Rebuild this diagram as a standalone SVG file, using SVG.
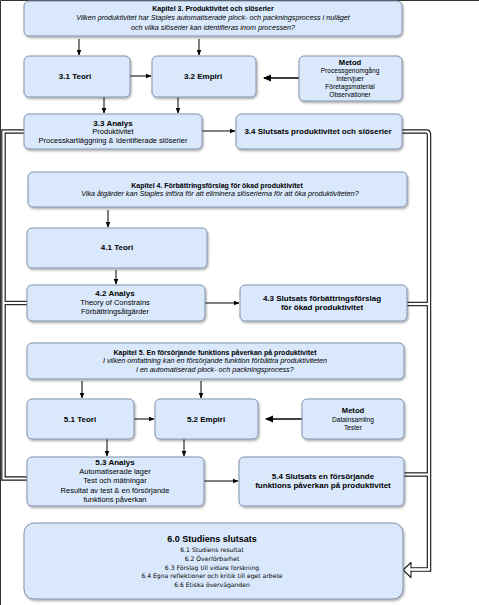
<svg xmlns="http://www.w3.org/2000/svg" width="479" height="605" viewBox="0 0 479 605">
<defs>
<filter id="sh" x="-5%" y="-5%" width="110%" height="120%">
<feDropShadow dx="1" dy="1.5" stdDeviation="0.8" flood-color="#000" flood-opacity="0.35"/>
</filter>
<marker id="ah" markerUnits="userSpaceOnUse" markerWidth="6" markerHeight="6" viewBox="0 0 6 6" refX="5.5" refY="3" orient="auto">
<path d="M0,0.5 L6,3 L0,5.5 Z" fill="#000"/>
</marker>
<marker id="ahb" markerUnits="userSpaceOnUse" markerWidth="8" markerHeight="8" viewBox="0 0 8 8" refX="7" refY="4" orient="auto">
<path d="M0,0.5 L8,4 L0,7.5 Z" fill="#000"/>
</marker>
</defs>
<style>
.b{fill:#dae8fc;stroke:#8092ad;stroke-width:1;filter:url(#sh)}
.t{font-family:"Liberation Sans",Arial,sans-serif;fill:#000;text-anchor:middle}
.h{font-weight:bold;font-size:7px}
.q{font-style:italic;font-size:7.2px}
.n{font-weight:bold;font-size:8px}
.s{font-size:7.5px}
.mh{font-weight:bold;font-size:7.6px}
.ms{font-size:6.6px}
.d{font-family:"DejaVu Sans",Verdana,sans-serif;font-size:6.1px;text-anchor:middle;fill:#000}
.c{stroke:#000;stroke-width:1;fill:none;marker-end:url(#ah)}
.cb{stroke:#000;stroke-width:1.6;fill:none;marker-end:url(#ahb)}
.bo{stroke:#1a1a1a;stroke-width:4.5;fill:none}
.bi{stroke:#fff;stroke-width:2.2;fill:none}
</style>
<rect x="0" y="0" width="479" height="605" fill="#fff"/>
<path d="M0.5,605 V0.5 H479" stroke="#333" stroke-width="1" fill="none"/>

<g id="connectors">
<line class="c" x1="79" y1="39" x2="79" y2="55"/>
<line class="c" x1="199" y1="39" x2="199" y2="55"/>
<line class="c" x1="130" y1="76" x2="151" y2="76"/>
<line class="cb" x1="299" y1="78" x2="264" y2="78"/>
<line class="c" x1="104" y1="97" x2="104" y2="113"/>
<line class="c" x1="178" y1="97" x2="178" y2="113"/>
<line class="c" x1="202" y1="131" x2="235" y2="131"/>
<line class="c" x1="108" y1="210" x2="108" y2="227"/>
<line class="c" x1="116" y1="270" x2="116" y2="284"/>
<line class="c" x1="205" y1="303" x2="239" y2="303"/>
<line class="c" x1="82" y1="381" x2="82" y2="398"/>
<line class="c" x1="201" y1="381" x2="201" y2="398"/>
<line class="c" x1="134" y1="419" x2="154" y2="419"/>
<line class="cb" x1="302" y1="419" x2="266" y2="419"/>
<line class="c" x1="107" y1="439" x2="107" y2="456"/>
<line class="c" x1="184" y1="439" x2="184" y2="456"/>
<line class="c" x1="204" y1="481" x2="238" y2="481"/>

<path class="bo" d="M24,131.5 H3.5 V478.5 H27"/>
<path class="bo" d="M27,303 H3.5"/>
<path class="bo" d="M402,131.5 H426 Q429,131.5 429,134.5 V569.5 H411"/>
<path class="bo" d="M407,304 H429"/>
<path class="bo" d="M404,474.5 H429"/>
<path class="bi" d="M24,131.5 H3.5 V478.5 H27"/>
<path class="bi" d="M27,303 H3.5"/>
<path class="bi" d="M402,131.5 H426 Q429,131.5 429,134.5 V569.5 H411"/>
<path class="bi" d="M407,304 H429"/>
<path class="bi" d="M404,474.5 H429"/>
<polygon points="403,570 411,562.5 411,577.5" fill="#fff" stroke="#1a1a1a" stroke-width="1.1" stroke-linejoin="round"/>
<line x1="429" y1="569.5" x2="409.5" y2="569.5" stroke="#fff" stroke-width="2.2"/>
</g>

<g id="kap3">
<rect class="b" x="24" y="1" width="378" height="35" rx="5"/>
<text class="t h" x="213" y="11">Kapitel 3. Produktivitet och slöserier</text>
<text class="t q" x="213" y="20">Vilken produktivitet  har Staples automatiserade plock- och packningsprocess i nuläget</text>
<text class="t q" x="213" y="29.5">och vilka slöserier kan identifieras inom processen?</text>
</g>
<g id="n31">
<rect class="b" x="24" y="56" width="106" height="41" rx="5"/>
<text class="t n" x="75" y="79">3.1 Teori</text>
</g>
<g id="n32">
<rect class="b" x="152" y="56" width="104" height="41" rx="5"/>
<text class="t n" x="203" y="79">3.2 Empiri</text>
</g>
<g id="metod3">
<rect class="b" x="299" y="56" width="103" height="45" rx="5"/>
<text class="t mh" x="350" y="64.5">Metod</text>
<text class="t ms" x="350" y="73">Processgenomgång</text>
<text class="t ms" x="350" y="81">Intervjuer</text>
<text class="t ms" x="350" y="89">Företagsmaterial</text>
<text class="t ms" x="350" y="97">Observationer</text>
</g>
<g id="n33">
<rect class="b" x="24" y="114" width="178" height="35" rx="5"/>
<text class="t n" x="113" y="125.5">3.3 Analys</text>
<text class="t s" x="113" y="134">Produktivitet</text>
<text class="t s" x="113" y="143">Processkartläggning &amp; Identifierade slöserier</text>
</g>
<g id="n34">
<rect class="b" x="236" y="114" width="166" height="35" rx="5"/>
<text class="t n" x="318" y="134">3.4 Slutsats produktivitet och slöserier</text>
</g>

<g id="kap4">
<rect class="b" x="28" y="172" width="379" height="35" rx="5"/>
<text class="t h" x="217" y="187.5">Kapitel 4. Förbättringsförslag för ökad produktivitet</text>
<text class="t q" x="220" y="196">Vika åtgärder kan Staples införa för att eliminera slöserierna för att öka produktiviteten?</text>
</g>
<g id="n41">
<rect class="b" x="27" y="228" width="180" height="40" rx="5"/>
<text class="t n" x="117" y="250">4.1 Teori</text>
</g>
<g id="n42">
<rect class="b" x="27" y="285" width="178" height="36" rx="5"/>
<text class="t n" x="115" y="296">4.2 Analys</text>
<text class="t s" x="115" y="305">Theory of Constrains</text>
<text class="t s" x="115" y="313.5">Förbättringsåtgärder</text>
</g>
<g id="n43">
<rect class="b" x="240" y="285" width="167" height="36" rx="5"/>
<text class="t n" x="322" y="300.5">4.3 Slutsats förbättringsförslag</text>
<text class="t n" x="322" y="309.5">för ökad produktivitet</text>
</g>

<g id="kap5">
<rect class="b" x="27" y="343" width="377" height="36" rx="5"/>
<text class="t h" x="215" y="355">Kapitel 5. En försörjande funktions påverkan på produktivitet</text>
<text class="t q" x="215" y="363">I vilken omfattning kan en försörjande funktion förbättra produktiviteten</text>
<text class="t q" x="215" y="371.5">i en automatiserad plock- och packningsprocess?</text>
</g>
<g id="n51">
<rect class="b" x="27" y="399" width="107" height="40" rx="5"/>
<text class="t n" x="80" y="422">5.1 Teori</text>
</g>
<g id="n52">
<rect class="b" x="155" y="399" width="103" height="40" rx="5"/>
<text class="t n" x="206" y="422">5.2 Empiri</text>
</g>
<g id="metod5">
<rect class="b" x="302" y="399" width="102" height="40" rx="5"/>
<text class="t mh" x="353" y="413">Metod</text>
<text class="t ms" x="353" y="422">Datainsamling</text>
<text class="t ms" x="353" y="430">Tester</text>
</g>
<g id="n53">
<rect class="b" x="27" y="457" width="177" height="49" rx="5"/>
<text class="t n" x="115" y="464.5">5.3 Analys</text>
<text class="t s" x="115" y="473.5">Automatiserade lager</text>
<text class="t s" x="115" y="483">Test och mätningar</text>
<text class="t s" x="115" y="492.5">Resultat av test &amp; en försörjande</text>
<text class="t s" x="115" y="501.5">funktions påverkan</text>
</g>
<g id="n54">
<rect class="b" x="239" y="457" width="165" height="49" rx="5"/>
<text class="t n" x="323" y="479">5.4 Slutsats en försörjande</text>
<text class="t n" x="323" y="488">funktions påverkan på produktivitet</text>
</g>

<g id="n60">
<rect class="b" x="24" y="523" width="379" height="76" rx="10"/>
<text class="t" x="212" y="541.5" font-weight="bold" font-size="9px">6.0 Studiens slutsats</text>
<text class="d" x="212" y="552">6.1 Studiens resultat</text>
<text class="d" x="212" y="560.5">6.2 Överförbarhet</text>
<text class="d" x="212" y="569.5">6.3 Förslag till vidare forskning</text>
<text class="d" x="212" y="578">6.4 Egna reflektioner och kritik till eget arbete</text>
<text class="d" x="212" y="587">6.6 Etiska överväganden</text>
</g>
</svg>
